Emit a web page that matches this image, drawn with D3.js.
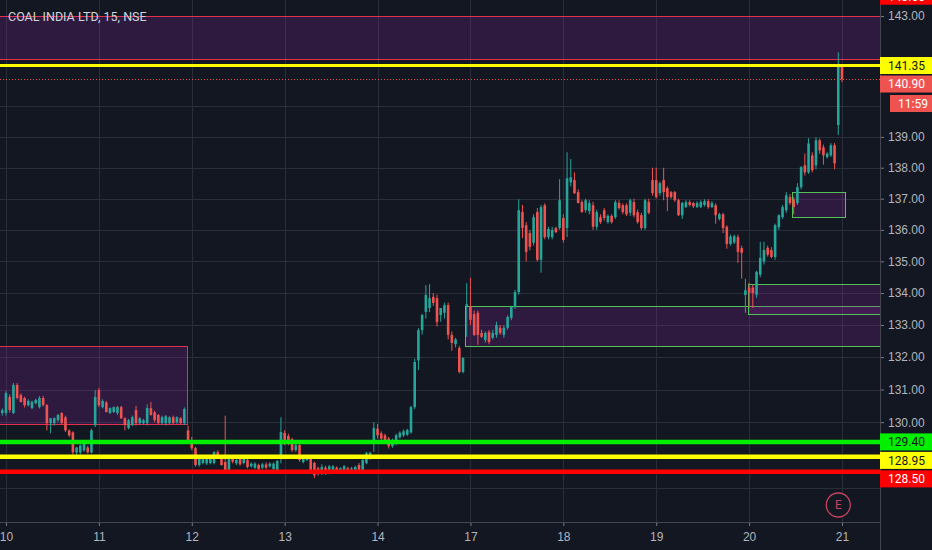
<!DOCTYPE html>
<html>
<head>
<meta charset="utf-8">
<script src="https://cdn.jsdelivr.net/npm/d3@7"></script>
<style>
html, body { margin: 0; padding: 0; background: #131722; overflow: hidden; }
svg { display: block; font-family: Roboto, "Liberation Sans", sans-serif; }
</style>
</head>
<body>
<div id="chart"></div>
<script>
// 15 minute bars, [open, high, low, close], 25 bars per session
var dayLabels = ["10", "11", "12", "13", "14", "17", "18", "19", "20", "21"];

var day9 = [
  [130.22, 130.45, 129.75, 130.37],
  [130.28, 130.42, 130.2, 130.37]
];
var day10 = [
  [130.28, 130.95, 130.2, 130.89], [130.77, 130.85, 130.3, 130.37], [130.28, 131.2, 130.25, 131.14],
  [131.14, 131.2, 130.7, 130.74], [130.83, 130.88, 130.6, 130.62], [130.74, 130.78, 130.45, 130.52],
  [130.52, 130.7, 130.48, 130.65], [130.43, 130.66, 130.4, 130.62], [130.58, 130.72, 130.55, 130.68],
  [130.46, 130.8, 130.42, 130.74], [130.74, 130.8, 130.48, 130.52], [130.52, 130.55, 129.75, 129.97],
  [129.97, 130.12, 129.66, 130.12], [129.97, 130.15, 129.9, 130.12], [130.06, 130.25, 130.0, 130.22],
  [130.28, 130.3, 129.95, 129.97], [130.15, 130.2, 129.7, 129.75], [129.75, 129.78, 129.55, 129.6],
  [129.69, 129.72, 128.98, 129.08], [129.08, 129.25, 129.0, 129.23], [129.08, 129.32, 129.02, 129.29],
  [129.14, 129.4, 129.1, 129.35], [129.23, 129.28, 129.05, 129.08], [129.08, 129.8, 129.05, 129.75],
  [129.91, 130.98, 129.85, 130.77]
];
var day11 = [
  [130.98, 131.05, 130.46, 130.52], [130.46, 130.7, 130.42, 130.65], [130.6, 130.65, 130.3, 130.31],
  [130.28, 130.45, 130.25, 130.43], [130.31, 130.48, 130.28, 130.46], [130.28, 130.5, 130.22, 130.46],
  [130.46, 130.5, 130.1, 130.12], [130.12, 130.15, 129.75, 129.91], [129.82, 130.1, 129.78, 130.06],
  [129.91, 130.2, 129.88, 130.15], [130.37, 130.5, 129.9, 129.97], [129.97, 130.15, 129.92, 130.12],
  [129.97, 130.1, 129.93, 130.06], [129.97, 130.55, 129.9, 130.43], [130.43, 130.62, 130.2, 130.22],
  [130.3, 130.35, 130.0, 130.06], [130.22, 130.25, 129.95, 129.97], [129.97, 130.2, 129.92, 130.15],
  [129.97, 130.22, 129.9, 130.18], [129.97, 130.18, 129.92, 130.15], [130.15, 130.2, 129.95, 129.97],
  [130.0, 130.18, 129.95, 130.15], [130.12, 130.15, 129.94, 129.97], [129.97, 130.45, 129.92, 130.4],
  [129.75, 129.9, 129.35, 129.45]
];
var day12 = [
  [129.45, 129.55, 129.15, 129.21], [129.21, 129.25, 128.65, 128.7], [128.7, 128.95, 128.65, 128.91],
  [128.76, 128.95, 128.72, 128.91], [128.75, 128.93, 128.7, 128.88], [128.76, 128.92, 128.72, 128.9],
  [128.76, 129.12, 128.72, 129.09], [129.09, 129.15, 128.88, 128.91], [128.94, 128.98, 128.68, 128.7],
  [128.79, 130.2, 128.45, 128.48], [128.48, 128.97, 128.43, 128.94], [128.9, 128.95, 128.75, 128.8],
  [128.75, 128.9, 128.7, 128.85], [128.9, 128.96, 128.68, 128.72], [128.76, 128.95, 128.72, 128.9],
  [128.85, 128.88, 128.6, 128.64], [128.66, 128.78, 128.62, 128.74], [128.62, 128.78, 128.58, 128.74],
  [128.7, 128.74, 128.55, 128.58], [128.62, 128.76, 128.58, 128.72], [128.72, 128.78, 128.58, 128.62],
  [128.66, 128.78, 128.62, 128.74], [128.58, 128.78, 128.55, 128.74], [128.55, 128.85, 128.52, 128.82],
  [128.94, 130.15, 128.75, 129.7]
];
var day13 = [
  [129.67, 129.75, 129.3, 129.39], [129.58, 129.65, 129.3, 129.36], [129.48, 129.52, 129.1, 129.15],
  [129.15, 129.35, 129.1, 129.3], [129.3, 129.38, 128.8, 128.85], [128.79, 128.96, 128.75, 128.94],
  [128.85, 129.0, 128.82, 128.97], [128.94, 128.98, 128.52, 128.55], [128.76, 128.8, 128.3, 128.39],
  [128.6, 128.65, 128.38, 128.45], [128.45, 128.72, 128.4, 128.64], [128.62, 128.68, 128.4, 128.45],
  [128.45, 128.7, 128.42, 128.66], [128.55, 128.7, 128.5, 128.66], [128.62, 128.66, 128.48, 128.52],
  [128.52, 128.63, 128.48, 128.6], [128.55, 128.7, 128.5, 128.66], [128.6, 128.65, 128.5, 128.54],
  [128.56, 128.64, 128.52, 128.6], [128.55, 128.68, 128.52, 128.64], [128.7, 128.76, 128.5, 128.52],
  [128.52, 128.88, 128.48, 128.85], [128.76, 129.1, 128.72, 129.06], [128.9, 129.1, 128.86, 129.07],
  [129.36, 130.0, 129.1, 129.82]
];
var day14 = [
  [129.8, 129.95, 129.5, 129.6], [129.66, 129.72, 129.45, 129.5], [129.6, 129.65, 129.35, 129.42],
  [129.5, 129.55, 129.2, 129.27], [129.27, 129.5, 129.22, 129.45], [129.35, 129.65, 129.3, 129.6],
  [129.54, 129.72, 129.5, 129.68], [129.6, 129.78, 129.55, 129.72], [129.62, 129.8, 129.58, 129.76],
  [129.69, 130.5, 129.65, 130.46], [130.46, 131.95, 130.4, 131.85], [131.9, 132.9, 131.6, 132.84],
  [132.84, 133.35, 132.7, 133.31], [133.41, 134.25, 133.2, 133.94], [133.53, 134.28, 133.4, 133.84],
  [133.88, 134.0, 133.6, 133.69], [133.84, 133.95, 132.95, 133.09], [133.31, 133.5, 133.1, 133.53],
  [133.38, 133.7, 133.2, 133.62], [133.62, 133.7, 132.55, 132.69], [132.69, 132.8, 132.2, 132.44],
  [132.4, 132.6, 132.3, 132.55], [132.28, 132.35, 131.5, 131.54], [131.54, 132.0, 131.5, 131.97],
  [133.6, 134.31, 132.63, 133.65]
];
var day17 = [
  [133.56, 134.48, 133.0, 133.16], [133.34, 133.45, 132.65, 132.69], [133.38, 133.45, 132.38, 132.69],
  [132.75, 132.85, 132.6, 132.63], [132.53, 132.8, 132.45, 132.75], [132.78, 132.85, 132.4, 132.47],
  [132.6, 132.85, 132.55, 132.75], [132.69, 133.1, 132.6, 133.0], [132.91, 133.0, 132.7, 132.75],
  [132.69, 133.0, 132.6, 132.91], [132.91, 133.3, 132.85, 133.25], [133.22, 133.6, 133.15, 133.56],
  [133.56, 134.1, 133.5, 134.03], [134.03, 136.98, 133.95, 136.63], [136.57, 136.8, 135.74, 136.06],
  [136.15, 136.25, 135.0, 135.3], [135.9, 136.0, 135.35, 135.46], [135.59, 136.5, 135.5, 136.41],
  [136.57, 136.7, 135.0, 135.05], [135.05, 136.8, 134.64, 136.73], [136.79, 136.85, 135.7, 135.77],
  [135.77, 136.1, 135.7, 136.03], [135.77, 136.1, 135.7, 136.0], [136.06, 136.1, 135.9, 135.93],
  [136.06, 137.63, 136.0, 136.95]
];
var day18 = [
  [136.38, 136.5, 135.6, 135.68], [136.06, 138.5, 135.77, 137.66], [137.53, 138.28, 137.4, 137.69],
  [137.6, 137.85, 137.15, 137.18], [137.21, 137.3, 136.85, 136.86], [136.89, 136.95, 136.55, 136.57],
  [136.63, 137.0, 136.55, 136.95], [136.6, 136.95, 136.5, 136.86], [136.79, 136.9, 136.0, 136.1],
  [136.1, 136.65, 136.0, 136.57], [136.41, 136.5, 136.2, 136.25], [136.63, 136.7, 136.3, 136.38],
  [136.25, 136.5, 136.2, 136.45], [136.45, 136.5, 136.2, 136.25], [136.41, 136.95, 136.35, 136.89],
  [136.86, 136.95, 136.65, 136.7], [136.79, 136.85, 136.5, 136.57], [136.79, 136.85, 136.45, 136.5],
  [136.55, 137.0, 136.45, 136.95], [136.89, 137.0, 136.4, 136.47], [136.57, 136.65, 136.2, 136.25],
  [136.47, 136.55, 136.0, 136.06], [136.06, 137.0, 136.0, 136.95], [136.9, 137.0, 136.5, 136.55],
  [137.6, 138.0, 137.1, 137.18]
];
var day19 = [
  [137.6, 138.0, 137.0, 137.05], [137.18, 137.55, 137.1, 137.5], [137.6, 138.0, 136.95, 137.21],
  [137.34, 137.4, 136.6, 137.05], [137.21, 137.25, 137.0, 137.05], [137.21, 137.25, 136.9, 136.95],
  [136.95, 137.0, 136.45, 136.47], [136.47, 136.9, 136.35, 136.86], [136.73, 136.95, 136.7, 136.89],
  [136.89, 136.95, 136.75, 136.8], [136.86, 136.9, 136.7, 136.76], [136.73, 136.92, 136.7, 136.86],
  [136.73, 136.95, 136.7, 136.89], [136.8, 136.98, 136.75, 136.92], [136.92, 136.98, 136.68, 136.73],
  [136.73, 136.92, 136.7, 136.86], [136.79, 136.85, 136.2, 136.47], [136.35, 136.55, 136.3, 136.5],
  [136.5, 136.55, 135.9, 136.06], [136.1, 136.15, 135.4, 135.55], [135.55, 135.85, 135.5, 135.79],
  [135.6, 135.85, 135.55, 135.8], [135.77, 135.85, 134.95, 135.3], [135.42, 135.5, 134.45, 135.27],
  [133.94, 134.45, 133.38, 134.09]
];
var day20 = [
  [134.17, 134.33, 133.56, 134.0], [134.17, 134.25, 133.53, 134.0], [133.95, 134.7, 133.85, 134.67],
  [134.58, 135.62, 134.5, 135.11], [134.99, 135.62, 134.9, 135.36], [135.43, 135.5, 135.15, 135.21],
  [135.36, 135.45, 135.1, 135.14], [135.14, 136.2, 135.05, 136.15], [136.09, 136.5, 136.0, 136.47],
  [136.41, 136.8, 136.35, 136.73], [136.63, 137.21, 136.55, 137.11], [137.05, 137.15, 136.8, 136.86],
  [136.98, 137.05, 136.5, 136.73], [136.86, 137.5, 136.8, 137.37], [137.37, 138.05, 137.3, 138.02],
  [138.08, 138.46, 137.75, 137.85], [137.85, 138.96, 137.8, 138.79], [138.4, 138.5, 137.85, 137.92],
  [138.08, 138.99, 137.95, 138.89], [138.89, 138.95, 138.45, 138.56], [138.66, 138.75, 138.1, 138.4],
  [138.34, 138.5, 138.3, 138.46], [138.4, 138.8, 138.35, 138.73], [138.73, 138.8, 137.95, 138.14],
  [139.39, 141.79, 139.06, 141.3]
];
var day21 = [
  [141.3, 141.35, 140.8, 140.9]
];

// horizontal levels
var levelPrices = [141.35, 129.40, 128.95, 128.50];
var levelKinds = ["yellow", "lime", "yellow", "red"];

// zones: bar index from/to, price top/bottom
var zoneFrom = [-5, -5, 123.5, 199.7, 211.5];
var zoneTo = [240, 48.7, 240, 240, 225.8];
var zoneTop = [143.0, 132.35, 133.6, 134.3, 137.22];
var zoneBottom = [141.55, 129.95, 132.35, 133.35, 136.4];
var zoneKinds = ["red", "red", "green", "green", "green"];

var gridPrices = [143, 140, 139, 138, 137, 136, 135, 134, 133, 132, 131, 130, 129, 128];
var lastPrice = 140.90;
var countdown = "11:59";
var topMarker = 143.60;

var width = 932, height = 550;
var plotW = 880, plotH = 522;
var up = "#26a69a", down = "#ef5350";
var kindColor = { yellow: "#ffff00", lime: "#00f000", red: "#ff0000" };
var zoneStroke = { red: "#e3304f", green: "#52c257" };

var sessions = [day10, day11, day12, day13, day14, day17, day18, day19, day20, day21];
var bars = [];
day9.forEach(function (d, j) { bars.push({ i: j - day9.length, o: d[0], h: d[1], l: d[2], c: d[3] }); });
sessions.forEach(function (s, k) {
  s.forEach(function (d, j) { bars.push({ i: k * 25 + j, o: d[0], h: d[1], l: d[2], c: d[3] }); });
});
var dayStarts = dayLabels.map(function (d, k) { return k * 25; });

var x = d3.scaleLinear().domain([0, 225]).range([6, 842]);
var y = d3.scaleLog().domain([126.99, 143.54]).range([plotH, 0]);
function px(v) { return Math.round(v) + 0.5; }

var svg = d3.select("#chart").append("svg")
  .attr("width", width).attr("height", height);

svg.append("rect").attr("width", width).attr("height", height).attr("fill", "#131722");

svg.append("defs").append("clipPath").attr("id", "plot")
  .append("rect").attr("width", plotW).attr("height", plotH);

var g = svg.append("g").attr("clip-path", "url(#plot)");

// grid
g.selectAll(".hgrid").data(gridPrices).enter().append("line")
  .attr("x1", 0).attr("x2", plotW)
  .attr("y1", function (d) { return px(y(d)); })
  .attr("y2", function (d) { return px(y(d)); })
  .attr("stroke", "#2a2e39").attr("stroke-width", 1);
g.selectAll(".vgrid").data(dayStarts).enter().append("line")
  .attr("y1", 0).attr("y2", plotH)
  .attr("x1", function (d) { return px(x(d)); })
  .attr("x2", function (d) { return px(x(d)); })
  .attr("stroke", "#2a2e39").attr("stroke-width", 1);

// zones
g.selectAll(".zone").data(zoneFrom).enter().append("rect")
  .attr("x", function (d) { return px(x(d)); })
  .attr("width", function (d, i) { return Math.round(x(zoneTo[i])) - Math.round(x(d)); })
  .attr("y", function (d, i) { return px(y(zoneTop[i])); })
  .attr("height", function (d, i) { return Math.round(y(zoneBottom[i])) - Math.round(y(zoneTop[i])); })
  .attr("fill", "rgba(156, 39, 176, 0.2)")
  .attr("stroke", function (d, i) { return zoneStroke[zoneKinds[i]]; })
  .attr("stroke-width", 1);

// candles
var cw = 2.6;
var cg = g.append("g");
cg.selectAll(".wick").data(bars).enter().append("line")
  .attr("x1", function (d) { return x(d.i); })
  .attr("x2", function (d) { return x(d.i); })
  .attr("y1", function (d) { return y(d.h); })
  .attr("y2", function (d) { return y(d.l); })
  .attr("stroke", function (d) { return d.c >= d.o ? up : down; })
  .attr("stroke-width", 1);
cg.selectAll(".body").data(bars).enter().append("rect")
  .attr("x", function (d) { return x(d.i) - cw / 2; })
  .attr("width", cw)
  .attr("y", function (d) { return y(Math.max(d.o, d.c)); })
  .attr("height", function (d) { return Math.max(1, Math.abs(y(d.o) - y(d.c))); })
  .attr("fill", function (d) { return d.c >= d.o ? up : down; });

// level lines
g.selectAll(".level").data(levelPrices).enter().append("line")
  .attr("x1", 0).attr("x2", plotW)
  .attr("y1", function (d) { return y(d); })
  .attr("y2", function (d) { return y(d); })
  .attr("stroke", function (d, i) { return kindColor[levelKinds[i]]; })
  .attr("stroke-width", function (d, i) { return i === 0 ? 3 : 4.5; });

// last price dotted line
g.append("line")
  .attr("x1", 0).attr("x2", plotW)
  .attr("y1", px(y(lastPrice))).attr("y2", px(y(lastPrice)))
  .attr("stroke", down).attr("stroke-width", 1)
  .attr("stroke-dasharray", "1,2");

// earnings marker
var em = svg.append("g").attr("transform", "translate(" + x(224) + ",505)");
em.append("circle").attr("r", 12).attr("fill", "#131722")
  .attr("stroke", "#c8435e").attr("stroke-width", 1.3);
em.append("text").attr("text-anchor", "middle").attr("dy", "0.36em")
  .attr("font-size", 12).attr("fill", "#c8435e").text("E");

// title
svg.append("text").attr("x", 8).attr("y", 21)
  .attr("font-size", 12.5).attr("fill", "#d1d4dc")
  .text("COAL INDIA LTD, 15, NSE");

// price labels with simple stacking
var labels = [
  { v: 141.35, text: "141.35", bg: "#ffff00", fg: "#131722" },
  { v: lastPrice, text: lastPrice.toFixed(2), bg: down, fg: "#ffffff" },
  { v: 129.40, text: "129.40", bg: "#00f000", fg: "#131722" },
  { v: 128.95, text: "128.95", bg: "#ffff00", fg: "#131722" },
  { v: 128.50, text: "128.50", bg: "#ff0000", fg: "#ffffff" }
];
var prev = -100;
labels.forEach(function (d) {
  d.cy = Math.max(y(d.v), prev + 18.5);
  prev = d.cy;
  if (d.v === lastPrice) prev += 19;
});
var cdY = labels[1].cy + 19.5;

// axes
var hidden = labels.map(function (d) { return d.cy; }).concat([cdY]);
var yAxis = d3.axisRight(y).tickValues(gridPrices.filter(function (p) {
    return hidden.every(function (h) { return Math.abs(y(p) - h) > 12; });
  }))
  .tickFormat(d3.format(".2f")).tickSize(4).tickPadding(4);
var ya = svg.append("g").attr("transform", "translate(" + plotW + ",0)").call(yAxis);
ya.select(".domain").remove();
ya.selectAll("line").attr("stroke", "#787b86");
ya.selectAll("text").attr("fill", "#b2b5be").attr("font-size", 12);

var xAxis = d3.axisBottom(x).tickValues(dayStarts)
  .tickFormat(function (d, i) { return dayLabels[i]; }).tickSize(4).tickPadding(6);
var xa = svg.append("g").attr("transform", "translate(0," + plotH + ")").call(xAxis);
xa.select(".domain").remove();
xa.selectAll("line").attr("stroke", "#787b86");
xa.selectAll("text").attr("fill", "#b2b5be").attr("font-size", 12);

svg.append("line").attr("x1", 0).attr("x2", plotW).attr("y1", plotH + 0.5).attr("y2", plotH + 0.5)
  .attr("stroke", "#434651");
svg.append("line").attr("x1", plotW + 0.5).attr("x2", plotW + 0.5).attr("y1", 0).attr("y2", height)
  .attr("stroke", "#434651");

var lg = svg.append("g");
function tag(cy, x0, bg, fg, text) {
  lg.append("rect").attr("x", x0).attr("y", cy - 8.5).attr("width", width - x0).attr("height", 17)
    .attr("fill", bg);
  lg.append("text").attr("x", x0 + 8).attr("y", cy).attr("dy", "0.36em")
    .attr("font-size", 12).attr("fill", fg).text(text);
}
// the upper range tag sits mostly above the visible price range
tag(y(topMarker) - 2, plotW, "#ff0000", "#ffffff", topMarker.toFixed(2));
labels.forEach(function (d) { tag(d.cy, plotW, d.bg, d.fg, d.text); });
tag(cdY, plotW + 10, down, "#ffffff", countdown);
</script>
</body>
</html>
